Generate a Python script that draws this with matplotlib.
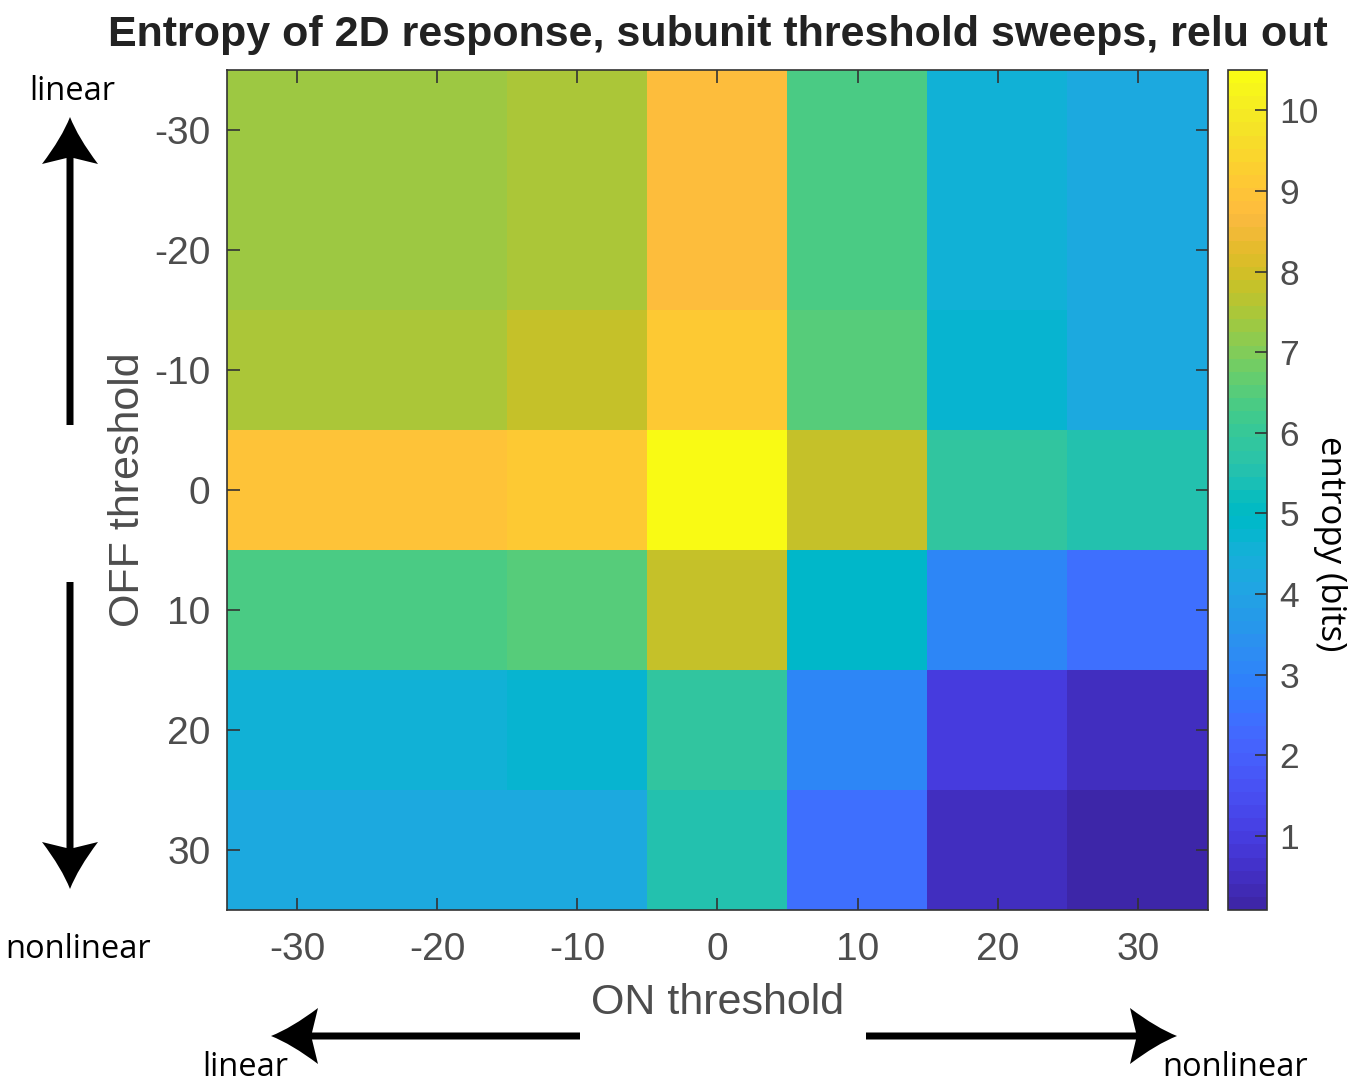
import numpy as np
import matplotlib
matplotlib.use("Agg")
import matplotlib.pyplot as plt
from matplotlib.colors import ListedColormap
from matplotlib.path import Path
from matplotlib.patches import PathPatch

# thresholds swept for the ON and OFF subunits
on_thresh = [-30, -20, -10, 0, 10, 20, 30]
off_thresh = [-30, -20, -10, 0, 10, 20, 30]

# entropy (bits), rows = OFF threshold, cols = ON threshold
entropy = [
    [7.32, 7.32, 7.49, 8.79, 6.35, 4.56, 4.23],
    [7.32, 7.32, 7.49, 8.79, 6.35, 4.56, 4.23],
    [7.49, 7.49, 7.81, 9.12, 6.51, 4.72, 4.23],
    [8.95, 8.95, 9.12, 10.50, 7.81, 5.86, 5.53],
    [6.35, 6.35, 6.51, 7.81, 4.88, 3.09, 2.44],
    [4.56, 4.56, 4.72, 5.86, 3.09, 0.98, 0.49],
    [4.23, 4.23, 4.23, 5.53, 2.44, 0.49, 0.08],
]
cbar_ticks = [1, 2, 3, 4, 5, 6, 7, 8, 9, 10]

# matlab parula, 64 entries
parula_rgb = [
    [0.2422, 0.1504, 0.6603], [0.2504, 0.1650, 0.7076], [0.2578, 0.1818, 0.7511],
    [0.2647, 0.1978, 0.7952], [0.2706, 0.2147, 0.8364], [0.2751, 0.2342, 0.8710],
    [0.2783, 0.2559, 0.8991], [0.2803, 0.2782, 0.9221], [0.2813, 0.3006, 0.9414],
    [0.2810, 0.3228, 0.9579], [0.2795, 0.3447, 0.9717], [0.2760, 0.3667, 0.9829],
    [0.2699, 0.3892, 0.9906], [0.2602, 0.4123, 0.9952], [0.2440, 0.4358, 0.9988],
    [0.2206, 0.4603, 0.9973], [0.1963, 0.4847, 0.9892], [0.1834, 0.5074, 0.9798],
    [0.1786, 0.5289, 0.9682], [0.1764, 0.5499, 0.9520], [0.1687, 0.5703, 0.9359],
    [0.1540, 0.5902, 0.9218], [0.1460, 0.6091, 0.9079], [0.1380, 0.6276, 0.8973],
    [0.1248, 0.6459, 0.8883], [0.1113, 0.6635, 0.8763], [0.0952, 0.6798, 0.8598],
    [0.0689, 0.6948, 0.8394], [0.0297, 0.7082, 0.8163], [0.0036, 0.7203, 0.7917],
    [0.0067, 0.7312, 0.7660], [0.0433, 0.7411, 0.7394], [0.0964, 0.7500, 0.7120],
    [0.1408, 0.7584, 0.6842], [0.1717, 0.7670, 0.6554], [0.1938, 0.7758, 0.6251],
    [0.2161, 0.7843, 0.5923], [0.2470, 0.7918, 0.5567], [0.2906, 0.7973, 0.5188],
    [0.3406, 0.8008, 0.4789], [0.3909, 0.8029, 0.4354], [0.4456, 0.8024, 0.3909],
    [0.5044, 0.7993, 0.3480], [0.5616, 0.7942, 0.3045], [0.6174, 0.7876, 0.2612],
    [0.6720, 0.7793, 0.2227], [0.7242, 0.7698, 0.1910], [0.7738, 0.7598, 0.1646],
    [0.8203, 0.7498, 0.1535], [0.8634, 0.7406, 0.1596], [0.9035, 0.7330, 0.1774],
    [0.9393, 0.7288, 0.2100], [0.9728, 0.7298, 0.2394], [0.9956, 0.7434, 0.2371],
    [0.9970, 0.7659, 0.2199], [0.9952, 0.7893, 0.2028], [0.9892, 0.8136, 0.1885],
    [0.9786, 0.8386, 0.1766], [0.9676, 0.8639, 0.1643], [0.9610, 0.8890, 0.1537],
    [0.9597, 0.9135, 0.1423], [0.9628, 0.9373, 0.1265], [0.9691, 0.9606, 0.1064],
    [0.9769, 0.9839, 0.0805],
]
parula = ListedColormap(parula_rgb, name="parula")

W, H = 1352, 1083
plt.rcParams['font.family'] = ['Liberation Sans', 'DejaVu Sans']
plt.rcParams['axes.unicode_minus'] = False
TXT = '#4d4d4d'
ANNOT_FONT = ['Open Sans', 'DejaVu Sans']

fig = plt.figure(figsize=(W / 100, H / 100), dpi=100)


def px(x, y):
    """pixel position (origin top-left) -> figure fraction"""
    return x / W, 1 - y / H


ax = fig.add_axes([227 / W, 1 - 910 / H, 981 / W, 840 / H])
cax = fig.add_axes([1228 / W, 1 - 910 / H, 39 / W, 840 / H])

data = np.array(entropy)
step = on_thresh[1] - on_thresh[0]
ext = (on_thresh[0] - step / 2, on_thresh[-1] + step / 2,
       off_thresh[-1] + step / 2, off_thresh[0] - step / 2)
im = ax.imshow(data, cmap=parula, extent=ext, aspect='auto',
               interpolation='nearest', origin='upper')

ax.set_xticks(on_thresh)
ax.set_yticks(off_thresh)
ax.tick_params(direction='in', length=9, width=1.2, top=True, right=True,
               labelsize=28, labelcolor=TXT, color='#333333')
ax.tick_params(axis='x', pad=16)
ax.tick_params(axis='y', pad=12)
for s in ax.spines.values():
    s.set_color('#333333')
    s.set_linewidth(1.2)

ax.set_xlabel('ON threshold', fontsize=31, color=TXT, labelpad=11)
ax.set_ylabel('OFF threshold', fontsize=31, color=TXT, labelpad=4)
ax.set_title('Entropy of 2D response, subunit threshold sweeps, relu out',
             fontsize=31, fontweight='bold', color='#222222', pad=17)

cb = fig.colorbar(im, cax=cax, ticks=cbar_ticks)
cb.outline.set_edgecolor('#333333')
cb.outline.set_linewidth(1.2)
cax.tick_params(direction='in', length=9, width=1.2, labelsize=25.5,
                labelcolor=TXT, color='#333333', pad=9)
fig.text(*px(1330, 544), 'entropy (bits)', rotation=-90, fontsize=25,
         family=ANNOT_FONT, ha='center', va='center')


def arrow(tail, tip, shaft=7, head_len=47, head_w=56, notch=6):
    """black arrow with a concave head, given in pixel coords"""
    tail = np.array(tail, float)
    tip = np.array(tip, float)
    d = (tip - tail) / np.linalg.norm(tip - tail)
    n = np.array([-d[1], d[0]])
    back = tip - d * head_len
    neck = tip - d * (head_len - notch)
    b1 = back + n * head_w / 2
    b2 = back - n * head_w / 2
    c1 = (tip + b1) / 2 - n * 6 + d * 3
    c2 = (tip + b2) / 2 + n * 6 + d * 3
    pts = [tail + n * shaft / 2, neck + n * shaft / 2, b1, c1, tip, c2, b2,
           neck - n * shaft / 2, tail - n * shaft / 2, tail + n * shaft / 2]
    codes = [Path.MOVETO, Path.LINETO, Path.LINETO, Path.CURVE3, Path.CURVE3,
             Path.CURVE3, Path.CURVE3, Path.LINETO, Path.LINETO, Path.CLOSEPOLY]
    verts = [px(*p) for p in pts]
    fig.patches.append(PathPatch(Path(verts, codes), facecolor='black',
                                 edgecolor='none', transform=fig.transFigure))


arrow((70, 425), (70, 117))
arrow((70, 582), (70, 889))
arrow((580, 1036), (271, 1036))
arrow((866, 1036), (1177, 1036))

fig.text(*px(72, 91), 'linear', fontsize=23.5, family=ANNOT_FONT,
         ha='center', va='center')
fig.text(*px(78, 949), 'nonlinear', fontsize=23.5, family=ANNOT_FONT,
         ha='center', va='center')
fig.text(*px(245, 1068), 'linear', fontsize=23.5, family=ANNOT_FONT,
         ha='center', va='center')
fig.text(*px(1235, 1068), 'nonlinear', fontsize=23.5, family=ANNOT_FONT,
         ha='center', va='center')

fig.savefig('out.png', dpi=100)
